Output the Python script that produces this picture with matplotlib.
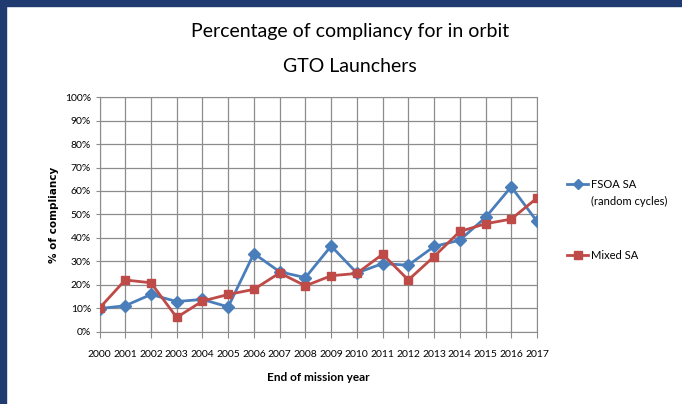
import matplotlib
matplotlib.use("Agg")
from matplotlib import pyplot as plt
from matplotlib.patches import Rectangle
from matplotlib.ticker import PercentFormatter

years = list(range(2000, 2018))
fsoa_sa = [9.8, 11, 15.8, 12.8, 13.7, 10.5, 33.3, 25.5, 23, 36.5,
           25, 29, 28.3, 36.3, 39, 48.7, 61.8, 47]
mixed_sa = [10, 22, 20.8, 6, 13, 15.8, 18, 25, 19.5, 23.8,
            24.8, 33, 22, 32, 42.7, 46, 48, 57]
series_labels = ["FSOA SA", "Mixed SA"]

narrow = ["Liberation Sans Narrow", "Lato", "DejaVu Sans"]
plt.rcParams['font.family'] = narrow

W, H = 682, 404
fig = plt.figure(figsize=(W / 100, H / 100), dpi=100)
fig.patch.set_facecolor("white")

# dark blue frame at top and left
fig.patches.append(Rectangle((0, 1 - 6 / H), 1, 6 / H, transform=fig.transFigure,
                             color="#1f3b70", zorder=0))
fig.patches.append(Rectangle((0, 0), 6 / W, 1, transform=fig.transFigure,
                             color="#1f3b70", zorder=0))

ax = fig.add_axes([99.5 / W, 1 - 331.5 / H, 437.5 / W, 234.2 / H])
ax.plot(years, fsoa_sa, color="#4a7ebb", lw=2, marker="D", ms=6,
        label=series_labels[0], zorder=3)
ax.plot(years, mixed_sa, color="#be4b48", lw=2, marker="s", ms=6,
        label=series_labels[1], zorder=3)

ax.set_xlim(2000, 2017)
ax.set_ylim(0, 100)
ax.set_xticks(years)
ax.set_yticks(range(0, 101, 10))
ax.yaxis.set_major_formatter(PercentFormatter(decimals=0))
ax.grid(True, color="#8c8c8c", lw=0.9)
ax.set_axisbelow(True)
for s in ax.spines.values():
    s.set_color("#8c8c8c")
ax.tick_params(labelsize=7.5, length=4, color="#8c8c8c", pad=9)
ax.tick_params(axis="y", length=3, pad=3)

ax.set_xlabel("End of mission year", fontsize=8.5, fontweight="bold", labelpad=10)
ax.set_ylabel("% of compliancy", fontsize=7.5, fontweight="bold",
              family="DejaVu Sans", labelpad=4)

fig.text(0.513, 1 - 32 / H, "Percentage of compliancy for in orbit", ha="center",
         va="center", fontsize=14)
fig.text(0.513, 1 - 67 / H, "GTO Launchers", ha="center", va="center", fontsize=14)

ax.legend(loc="upper left", bbox_to_anchor=(567 / W, 1 - 179 / H),
          bbox_transform=fig.transFigure, frameon=False, borderpad=0,
          borderaxespad=0, fontsize=8, labelspacing=5.4, handlelength=1.9,
          handletextpad=0.3, markerscale=0.9)
fig.text(591 / W, 1 - 201 / H, "(random cycles)", ha="left", va="center",
         fontsize=8)

fig.savefig("out.png", dpi=100)
